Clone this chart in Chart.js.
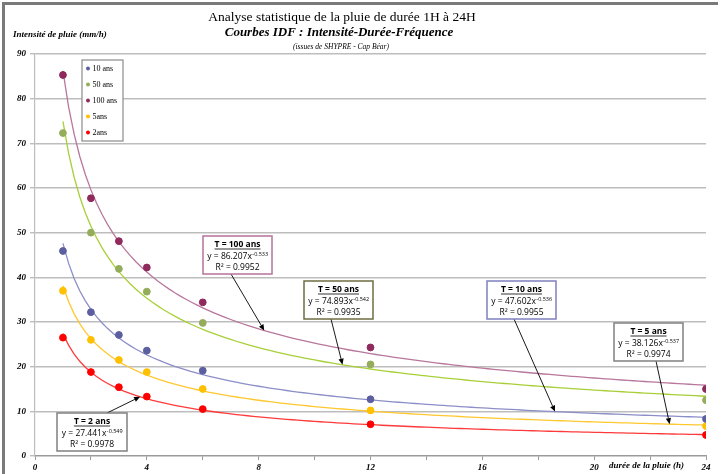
<!DOCTYPE html>
<html><head><meta charset="utf-8">
<script src="https://cdn.jsdelivr.net/npm/chart.js@4.4.1/dist/chart.umd.min.js"></script>
<style>html,body{margin:0;padding:0;background:#fff;}canvas{display:block;}</style>
</head><body>
<canvas id="c" width="721" height="474"></canvas>
<script>
// ---- data ----
const durations = [1, 2, 3, 4, 6, 12, 24];
const seriesNames = ['10 ans', '50 ans', '100 ans', '5ans', '2ans'];
const i10  = [45.9, 32.2, 27.1, 23.6, 19.1, 12.7, 8.3];
const i50  = [72.3, 50.0, 41.9, 36.8, 29.8, 20.5, 12.5];
const i100 = [85.3, 57.7, 48.1, 42.2, 34.4, 24.3, 15.0];
const i5   = [37.0, 26.0, 21.5, 18.8, 15.0, 10.2, 6.7];
const i2   = [26.5, 18.8, 15.4, 13.3, 10.5, 7.1, 4.7];
// power trendlines y = a * x^b, as printed on the chart
const trendA  = [47.602, 74.893, 86.207, 38.126, 27.441];
const trendB  = [-0.536, -0.542, -0.533, -0.537, -0.549];
const trendR2 = ['0.9955', '0.9935', '0.9952', '0.9974', '0.9978'];
const annTitles = ['T = 10 ans', 'T = 50 ans', 'T = 100 ans', 'T = 5 ans', 'T = 2 ans'];
const yTicks = [0, 10, 20, 30, 40, 50, 60, 70, 80, 90];
const xLabels = [0, 4, 8, 12, 16, 20, 24];

const seriesValues = [i10, i50, i100, i5, i2];
const pointColors = ['#5B5FA0', '#93AD5B', '#8E2A5C', '#FFC000', '#FF0000'];
const lineColors  = ['#8C8EC8', '#A8CF38', '#B8779C', '#FFC830', '#FF3A3A'];

const datasets = [];
seriesValues.forEach((vals, k) => {
  const pts = [];
  for (let x = 1; x <= 24.0001; x += 0.2) pts.push({x: x, y: trendA[k] * Math.pow(x, trendB[k])});
  datasets.push({type: 'line', label: 'trend ' + seriesNames[k], data: pts, borderColor: lineColors[k],
    borderWidth: 1.3, pointRadius: 0, fill: false, tension: 0, order: 10});
});
seriesValues.forEach((vals, k) => {
  datasets.push({type: 'scatter', label: seriesNames[k], data: durations.map((d, i) => ({x: d, y: vals[i]})),
    backgroundColor: pointColors[k], borderColor: pointColors[k], pointRadius: 3.4, pointHoverRadius: 3.4, order: 1});
});

// annotation layout (pixels for box, data x for arrow tip)
const annLayout = [
  {k: 0, x: 487, y: 281, w: 69, h: 38, border: '#8080C0', sx: 514, sy: 319, tipX: 18.6},
  {k: 1, x: 304, y: 281, w: 69, h: 38, border: '#6E6E40', sx: 331, sy: 319, tipX: 11.0},
  {k: 2, x: 203, y: 236, w: 69, h: 38, border: '#B5739A', sx: 231, sy: 274, tipX: 8.2},
  {k: 3, x: 614, y: 323, w: 69, h: 38, border: '#808080', sx: 656, sy: 361, tipX: 22.7},
  {k: 4, x: 57,  y: 413, w: 70, h: 38, border: '#808080', sx: 107, sy: 413, tipX: 3.76}
];

function arrow(ctx, x1, y1, x2, y2) {
  ctx.save();
  ctx.strokeStyle = '#000'; ctx.fillStyle = '#000'; ctx.lineWidth = 0.9;
  const ang = Math.atan2(y2 - y1, x2 - x1);
  const L = 6, W = 2.6;
  const bx = x2 - L * Math.cos(ang), by = y2 - L * Math.sin(ang);
  ctx.beginPath(); ctx.moveTo(x1, y1); ctx.lineTo(bx, by); ctx.stroke();
  ctx.beginPath(); ctx.moveTo(x2, y2);
  ctx.lineTo(bx + W * Math.sin(ang), by - W * Math.cos(ang));
  ctx.lineTo(bx - W * Math.sin(ang), by + W * Math.cos(ang));
  ctx.closePath(); ctx.fill();
  ctx.restore();
}

const overlay = {
  id: 'overlay',
  beforeDraw(chart) {
    const ctx = chart.ctx;
    ctx.save();
    ctx.fillStyle = '#fff'; ctx.fillRect(0, 0, chart.width, chart.height);
    ctx.restore();
  },
  afterDraw(chart) {
    const ctx = chart.ctx;
    const xs = chart.scales.x, ys = chart.scales.y;
    ctx.save();
    // frame
    ctx.fillStyle = '#7A7A7A';
    ctx.fillRect(2, 2, 716, 3);
    ctx.fillRect(2, 2, 3, 472);
    // titles
    ctx.fillStyle = '#000'; ctx.textAlign = 'center'; ctx.textBaseline = 'middle';
    ctx.font = '13.5px "Liberation Serif"';
    ctx.fillText('Analyse statistique de la pluie de durée 1H à 24H', 342, 17);
    ctx.font = 'italic bold 13px "Liberation Serif"';
    ctx.fillText('Courbes IDF : Intensité-Durée-Fréquence', 339, 33);
    ctx.font = 'italic 7.5px "Liberation Serif"';
    ctx.fillText('(issues de SHYPRE - Cap Béar)', 341, 47);
    ctx.textAlign = 'left';
    ctx.font = 'italic bold 9px "Liberation Serif"';
    ctx.fillText('Intensité de pluie (mm/h)', 13, 35);
    ctx.fillText('durée de la pluie (h)', 609, 466);

    // arrows
    annLayout.forEach(a => {
      const tx = xs.getPixelForValue(a.tipX);
      const ty = ys.getPixelForValue(trendA[a.k] * Math.pow(a.tipX, trendB[a.k]));
      arrow(ctx, a.sx, a.sy, tx, ty);
    });
    // annotation boxes
    annLayout.forEach(a => {
      ctx.fillStyle = '#fff'; ctx.fillRect(a.x, a.y, a.w, a.h);
      ctx.strokeStyle = a.border; ctx.lineWidth = 1.5; ctx.strokeRect(a.x, a.y, a.w, a.h);
      const cx = a.x + a.w / 2;
      ctx.fillStyle = '#000'; ctx.textBaseline = 'middle';
      ctx.font = 'bold 8.5px "Open Sans"'; ctx.textAlign = 'center';
      const t = annTitles[a.k];
      ctx.fillText(t, cx, a.y + 8.5);
      const tw = ctx.measureText(t).width;
      ctx.fillRect(cx - tw / 2, a.y + 12.6, tw, 0.8);
      // equation
      const main = 'y = ' + trendA[a.k].toFixed(3) + 'x';
      const sup = trendB[a.k].toFixed(3);
      ctx.font = '8.5px "Open Sans"';
      const mw = ctx.measureText(main).width;
      ctx.font = '5.5px "Open Sans"';
      const sw = ctx.measureText(sup).width;
      const x0 = cx - (mw + sw) / 2;
      ctx.textAlign = 'left';
      ctx.font = '8.5px "Open Sans"';
      ctx.fillText(main, x0, a.y + 20.5);
      ctx.font = '5.5px "Open Sans"';
      ctx.fillText(sup, x0 + mw + 0.5, a.y + 18.3);
      ctx.font = '8.5px "Open Sans"'; ctx.textAlign = 'center';
      ctx.fillText('R² = ' + trendR2[a.k], cx, a.y + 31.5);
    });

    // legend
    ctx.fillStyle = '#fff'; ctx.fillRect(82, 60, 41, 81);
    ctx.strokeStyle = '#8A8A8A'; ctx.lineWidth = 1.2; ctx.strokeRect(82, 60, 41, 81);
    const ly = [68.5, 84.5, 100.5, 116.5, 132.5];
    seriesNames.forEach((n, k) => {
      ctx.fillStyle = pointColors[k];
      ctx.beginPath(); ctx.arc(88, ly[k], 2, 0, Math.PI * 2); ctx.fill();
      ctx.fillStyle = '#000'; ctx.textAlign = 'left'; ctx.textBaseline = 'middle';
      ctx.font = '8px "Liberation Serif"';
      ctx.fillText(n, 92.5, ly[k]);
    });
    ctx.restore();
  }
};

new Chart(document.getElementById('c'), {
  data: {datasets: datasets},
  options: {
    responsive: false, animation: false, devicePixelRatio: 1,
    layout: {padding: {left: 0, top: 54, right: 15, bottom: 0}},
    plugins: {legend: {display: false}, title: {display: false}, tooltip: {enabled: false}},
    scales: {
      x: {
        type: 'linear', min: 0, max: 24,
        afterFit(s) { s.height = 18; },
        afterBuildTicks(s) { const t = []; for (let v = 0; v <= 24; v += 2) t.push({value: v}); s.ticks = t; },
        ticks: {
          autoSkip: false, maxRotation: 0, padding: 2, color: '#000',
          font: {family: 'Liberation Serif', style: 'italic', weight: 'bold', size: 9},
          callback: v => (xLabels.includes(v) ? String(v) : '')
        },
        grid: {drawOnChartArea: false, drawTicks: true, tickLength: 4, color: '#9A9A9A'},
        border: {display: true, color: '#9A9A9A', width: 1.2}
      },
      y: {
        type: 'linear', min: 0, max: 90,
        afterFit(s) { s.width = 35; },
        afterBuildTicks(s) { s.ticks = yTicks.map(v => ({value: v})); },
        ticks: {
          color: '#000', padding: 4,
          font: {family: 'Liberation Serif', style: 'italic', weight: 'bold', size: 9}
        },
        grid: {color: '#BDBDBD', lineWidth: 1.4, tickLength: 5, drawTicks: true},
        border: {display: true, color: '#BDBDBD', width: 1.2}
      }
    }
  },
  plugins: [overlay]
});
</script>
</body></html>
